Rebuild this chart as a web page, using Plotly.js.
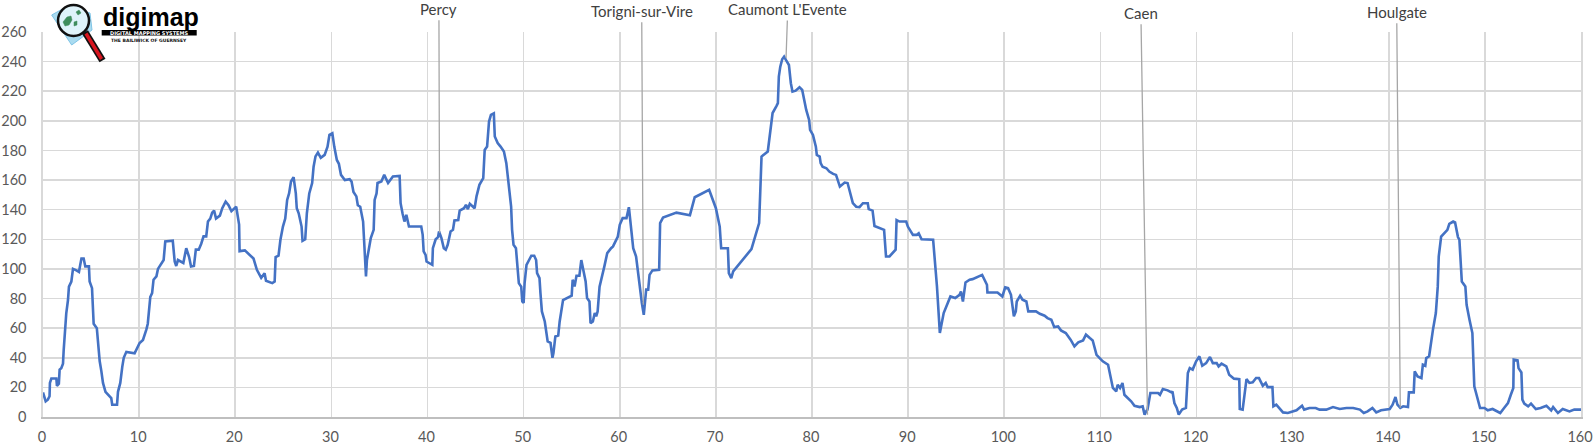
<!DOCTYPE html>
<html>
<head>
<meta charset="utf-8">
<script src="https://cdn.plot.ly/plotly-3.0.1.min.js"></script>
<style>
  html, body { margin: 0; padding: 0; background: #ffffff; }
  #chart { width: 1593px; height: 446px; }
</style>
</head>
<body>
<div id="chart"></div>
<script>
// ---- Data ----
const distanceKm = [
  0, 0.28, 0.5, 0.68, 0.72, 0.87, 1.39, 1.45, 1.65, 1.73, 1.9, 2.08, 2.15, 2.29, 2.42, 2.6, 2.7, 2.95, 3.12, 3.47,
  3.74, 3.88, 4.0, 4.23, 4.4, 4.78, 4.85, 5.1, 5.27, 5.6, 5.72, 5.9, 6.07, 6.24, 6.5, 6.76, 7.1, 7.2, 7.7, 7.8,
  8.04, 8.25, 8.4, 8.67, 9.53, 10.05, 10.4, 10.75, 10.9, 11.16, 11.35, 11.5, 11.8, 11.96, 12.3, 12.55, 12.72, 13.5, 13.7, 13.86,
  14.04, 14.6, 14.9, 15.2, 15.4, 15.7, 15.9, 16.2, 16.46, 16.7, 16.98, 17.16, 17.4, 17.6, 17.8, 18.0, 18.4, 18.65, 19.0, 19.3,
  19.6, 20.1, 20.4, 20.45, 21.0, 21.3, 21.56, 21.9, 22.25, 22.7, 23.05, 23.2, 23.85, 24.1, 24.2, 24.5, 24.7, 24.96, 25.2, 25.4,
  25.6, 25.8, 26.07, 26.3, 26.4, 26.6, 26.9, 27.0, 27.28, 27.45, 27.7, 28.0, 28.15, 28.35, 28.6, 28.9, 29.3, 29.6, 29.8, 30.1,
  30.3, 30.57, 30.78, 31.0, 31.4, 31.9, 32.1, 32.3, 32.6, 32.75, 33.0, 33.3, 33.4, 33.6, 33.7, 33.9, 34.1, 34.4, 34.5, 34.7,
  34.8, 35.2, 35.5, 35.9, 36.4, 37.1, 37.2, 37.4, 37.6, 37.8, 37.97, 38.07, 39.35, 39.5, 39.6, 39.8, 39.9, 40.5, 40.56, 40.85,
  41.1, 41.2, 41.45, 41.7, 41.9, 42.1, 42.4, 42.65, 42.8, 43.2, 43.35, 43.8, 44.0, 44.2, 44.4, 44.9, 45.1, 45.4, 45.8, 45.95,
  46.2, 46.4, 46.6, 46.9, 47.0, 47.3, 47.6, 47.95, 48.2, 48.5, 48.7, 48.8, 48.95, 49.2, 49.4, 49.5, 49.75, 49.86, 50.0, 50.1,
  50.3, 50.8, 51.1, 51.3, 51.4, 51.65, 51.75, 51.9, 52.2, 52.4, 52.5, 52.8, 52.9, 53.0, 53.1, 53.3, 53.6, 53.75, 54.1, 55.0,
  55.1, 55.3, 55.5, 55.8, 56.0, 56.2, 56.45, 56.6, 56.85, 56.96, 57.2, 57.4, 57.55, 57.7, 57.9, 58.4, 58.7, 59.1, 59.3, 59.8,
  60.0, 60.3, 60.7, 60.95, 61.1, 61.3, 61.4, 61.7, 61.9, 62.1, 62.3, 62.5, 62.75, 62.96, 63.1, 63.4, 64.1, 64.2, 64.5, 65.9,
  67.3, 67.8, 69.3, 70.0, 70.4, 70.55, 71.25, 71.35, 71.6, 71.8, 73.7, 74.5, 74.75, 75.4, 75.9, 76.3, 76.45, 76.55, 76.7, 76.9,
  77.1, 77.3, 77.6, 77.8, 77.97, 78.3, 78.5, 78.7, 78.98, 79.2, 79.4, 79.7, 79.8, 80.1, 80.4, 80.5, 80.8, 80.9, 81.1, 81.5,
  81.8, 82.2, 82.5, 82.9, 83.4, 83.7, 84.0, 84.25, 84.6, 84.94, 85.3, 85.8, 85.9, 86.3, 86.5, 87.5, 87.7, 88.06, 88.7, 88.8,
  89.1, 89.8, 89.97, 90.2, 90.5, 90.9, 91.1, 91.4, 92.6, 93.0, 93.3, 93.7, 94.4, 94.9, 95.35, 95.5, 95.7, 95.97, 96.4, 96.7,
  97.7, 98.2, 98.25, 99.3, 99.8, 100.1, 100.4, 100.7, 101.0, 101.2, 101.3, 101.65, 101.9, 102.3, 102.5, 103.3, 103.7, 104.2, 104.5, 104.9,
  105.2, 105.6, 105.9, 106.4, 106.9, 107.3, 107.7, 108.2, 108.5, 108.9, 109.2, 109.6, 109.9, 110.25, 110.8, 111.3, 111.65, 111.8, 112.05, 112.3,
  112.5, 112.85, 113.2, 113.55, 114.1, 114.4, 114.6, 114.75, 114.9, 115.2, 116.0, 116.2, 116.5, 117.0, 117.4, 117.5, 117.7, 117.95, 118.15, 118.5,
  118.9, 119.1, 119.3, 119.6, 119.96, 120.3, 120.6, 121.0, 121.4, 121.7, 122.1, 122.3, 122.6, 123.1, 123.4, 123.9, 124.45, 124.5, 124.8, 125.2,
  125.5, 125.85, 126.2, 126.5, 126.9, 127.2, 127.4, 127.9, 128.0, 128.3, 128.6, 129.0, 129.5, 130.0, 130.4, 130.98, 131.2, 131.75, 132.4, 132.8,
  133.5, 134.2, 134.9, 135.6, 136.3, 137.0, 137.4, 137.8, 138.3, 138.7, 139.2, 140.1, 140.4, 140.7, 140.9, 141.2, 141.5, 142.0, 142.1, 142.6,
  142.7, 143.0, 143.4, 143.55, 143.8, 143.9, 144.2, 144.6, 144.9, 145.1, 145.2, 145.45, 145.8, 146.1, 146.3, 146.7, 146.9, 147.2, 147.35, 147.6,
  147.97, 148.1, 148.4, 148.7, 148.9, 149.25, 149.5, 149.96, 150.3, 150.8, 151.3, 151.6, 152.0, 152.4, 152.7, 152.96, 153.0, 153.4, 153.5, 153.8,
  153.9, 154.1, 154.5, 154.8, 155.3, 155.8, 156.4, 156.9, 157.1, 157.6, 158.1, 158.8, 159.3, 160.0
];
const elevationM = [
  16.6, 10.6, 11.7, 14, 23, 26, 26, 21, 22.5, 32, 33, 36, 45, 63, 70, 79, 88, 91.5, 100, 99,
  98, 103, 107, 107, 101.7, 101.7, 91.5, 87, 63, 60, 50, 37.6, 31, 23, 17, 15, 12.8, 8.3, 8.3, 17,
  23, 34, 40, 44, 43, 50, 52, 59, 63, 81, 83.7, 92.7, 95, 100, 103, 106, 118.5, 119, 105, 102,
  106, 104, 114, 108, 101.7, 102, 113, 113, 117, 122, 122, 132, 134, 138, 139.4, 134, 136, 141, 145.5, 143,
  139, 142, 130, 112, 112.5, 110.6, 109.5, 107, 99.4, 94, 97, 92, 90.4, 91.5, 108, 108.9, 119.7, 128.6, 134, 146.6,
  151, 159, 162, 151, 141, 137.6, 128.6, 119, 120, 137.6, 151, 158, 169, 176, 178.6, 175, 177, 182.6, 190.5, 191.6,
  182.6, 173.6, 171, 163.5, 160, 160.6, 159, 152, 149, 143, 142, 132, 119.7, 95, 106, 115, 120.8, 126.4, 146.6, 151,
  158, 159, 163.5, 158, 162.4, 162.8, 144.4, 137.6, 132, 136.5, 131, 128.6, 128.6, 123, 111.8, 109.5, 105, 102.8, 114, 120,
  121.5, 125.3, 120.8, 114, 113, 116.3, 125.3, 126.4, 132.7, 133, 139.4, 141, 143.3, 140.4, 144, 141, 149, 156.8, 161.3, 180.4,
  182.6, 199.5, 204, 205, 189.4, 185, 182.6, 179.3, 171.4, 155.6, 142, 126.4, 116.3, 114, 97.2, 90.4, 88, 78, 77, 90.4,
  102.8, 108.9, 108.9, 106, 97.2, 93.8, 83.7, 71.3, 64.5, 55.6, 51, 50, 45.4, 40, 43, 54.4, 55, 64.5, 79, 82,
  92.7, 88.2, 95.4, 95.4, 106, 99.4, 91.5, 80.3, 78, 63.4, 64.5, 70.2, 68, 71.3, 88, 101.7, 110.7, 114, 115.2, 121.9,
  129.8, 134.3, 134.3, 141.7, 133, 124, 114, 108.4, 97.2, 88.2, 77, 69, 86, 86, 96, 99, 99.4, 131, 134.7, 138,
  136.3, 148.4, 153.4, 141, 128.6, 114, 114, 97.2, 93.8, 98.3, 113.4, 131, 175.9, 179.3, 205.3, 210, 212, 229.9, 236.6, 241.6,
  243.4, 241, 237.7, 225.4, 219.7, 220.4, 221.3, 222.7, 220.9, 214, 207.4, 200.6, 193.9, 190.5, 182.6, 177, 175.9, 171.4, 169, 168,
  165.8, 164.2, 163.5, 155.6, 158.3, 158, 151, 144.4, 142, 141.7, 144.4, 144.4, 140.4, 139.4, 129, 126.4, 108.4, 108.4, 113, 133,
  132, 132, 128.6, 126.4, 123, 123, 124, 120, 119.7, 88.2, 56.7, 70.2, 81.4, 80.3, 82.5, 84.8, 78, 90.9, 92.7, 93.1,
  96, 89.3, 84.1, 84.1, 81.4, 87.5, 87, 82.5, 68, 71.3, 78, 81.9, 79.2, 78, 71.3, 71.3, 69.7, 68.4, 66.8, 65.7,
  60.7, 61.2, 58.5, 56.7, 52.2, 47.7, 50.4, 51.7, 55.6, 53.3, 51.7, 42, 39.8, 37.6, 35.3, 19.6, 17.3, 21.8, 19.6, 23,
  15, 12.8, 10.6, 7.6, 6.7, 7.2, 1.6, 3.8, 5, 16.2, 16.2, 15, 18.9, 18, 16.6, 17.3, 9.4, 6.1, 1.6, 5,
  6.1, 29.7, 33, 32, 37.6, 41, 34.6, 36.4, 40.5, 36.4, 36.4, 34.2, 36, 34.2, 28.6, 25.9, 25.6, 5.4, 5, 25.6,
  23, 23.4, 26.3, 26.3, 21.1, 23, 20.2, 20.2, 7.2, 8.3, 6.1, 3.1, 2.7, 3.8, 4.5, 7.6, 5, 6.1, 6.1, 5,
  5, 6.7, 5.4, 6.1, 6.1, 5, 2.7, 3.8, 6.1, 3.1, 4.5, 5.4, 8.3, 13.5, 8.3, 6.1, 7.2, 6.7, 16.6, 16.6,
  30.8, 27.4, 26.3, 35.3, 34.6, 39.8, 41, 59, 70.2, 88.2, 108.4, 121.9, 124.2, 126.4, 130.5, 132, 131.4, 121.5, 119.7, 91.5,
  88.2, 75.8, 65.7, 56.7, 20.7, 12.8, 6.1, 6.1, 4.5, 5.4, 3.8, 2.7, 6.1, 9.4, 15, 19.6, 38.7, 38.2, 33, 30.1,
  11.7, 9, 7.2, 9, 5.4, 6.1, 7.6, 4.5, 6.7, 2.7, 5.4, 3.8, 5, 5
];

// Place labels with leader lines
const placeNames = ["Percy", "Torigni-sur-Vire", "Caumont L'Evente", "Caen", "Houlgate"];
const placeKm    = [41.26, 62.45, 77.3, 114.9, 141.2];
const placeElev  = [124.4, 75.8, 242.4, 1.5, 6.3];

const xTickVals = [0, 10, 20, 30, 40, 50, 60, 70, 80, 90, 100, 110, 120, 130, 140, 150, 160];
const yTickVals = [0, 20, 40, 60, 80, 100, 120, 140, 160, 180, 200, 220, 240, 260];

// ---- Layout geometry ----
const W = 1593, H = 446;
const M = { l: 43, r: 12, t: 32, b: 29 };
const PW = W - M.l - M.r, PH = H - M.t - M.b;
const px = v => (v - M.l) / PW;           // pixel x -> paper x
const py = v => (H - M.b - v) / PH;       // pixel y -> paper y

// label offsets (pixels) from the data point to the label centre
const labelOffsets = [[-0.7, -224], [-1.6, -294], [1.7, -49], [-6.6, -402], [-3.6, -396]];

const annotations = placeNames.map((name, i) => ({
  x: placeKm[i], y: placeElev[i], xref: 'x', yref: 'y',
  text: name, showarrow: true, arrowhead: 0, arrowwidth: 1.3, arrowcolor: '#a6a6a6',
  ax: labelOffsets[i][0], ay: labelOffsets[i][1], standoff: 0,
  font: { family: 'Lato, "Open Sans", sans-serif', size: 15, color: '#404040' },
  borderpad: 2
}));

// ---- Logo (digimap) ----
function pathFrom(points) {
  return 'M ' + points.map(p => px(p[0]) + ',' + py(p[1])).join(' L ') + ' Z';
}
const logoShapes = [
  { type: 'path', xref: 'paper', yref: 'paper', layer: 'above',
    path: pathFrom([[51.7, 15], [66, 7], [90, 13], [92, 30], [71.7, 45]]),
    fillcolor: '#a9dbf0', line: { color: '#7fc4e6', width: 1 } },
  { type: 'line', xref: 'paper', yref: 'paper', layer: 'above',
    x0: px(85), y0: py(32), x1: px(102.5), y1: py(60.5), line: { color: '#111111', width: 7 } },
  { type: 'line', xref: 'paper', yref: 'paper', layer: 'above',
    x0: px(86), y0: py(33.5), x1: px(101.5), y1: py(59), line: { color: '#d8151f', width: 3.5 } },
  { type: 'circle', xref: 'paper', yref: 'paper', layer: 'above',
    x0: px(58), y0: py(5), x1: px(89), y1: py(36),
    fillcolor: '#dff3fa', line: { color: '#111111', width: 2.5 } },
  { type: 'path', xref: 'paper', yref: 'paper', layer: 'above',
    path: pathFrom([[63, 22], [67, 17], [71, 16], [72, 20], [69, 25], [65, 26]]),
    fillcolor: '#3f8d5c', line: { color: '#3f8d5c', width: 0.5 } },
  { type: 'path', xref: 'paper', yref: 'paper', layer: 'above',
    path: pathFrom([[76, 12], [79, 10], [81, 13], [78, 15]]),
    fillcolor: '#3f8d5c', line: { color: '#3f8d5c', width: 0.5 } },
  { type: 'path', xref: 'paper', yref: 'paper', layer: 'above',
    path: pathFrom([[74, 22], [77, 21], [77, 25], [74, 26]]),
    fillcolor: '#3f8d5c', line: { color: '#3f8d5c', width: 0.5 } },
  { type: 'rect', xref: 'paper', yref: 'paper', layer: 'above',
    x0: px(101.7), y0: py(35.5), x1: px(196.7), y1: py(30),
    fillcolor: '#000000', line: { width: 0 } }
];
const logoTexts = [
  { xref: 'paper', yref: 'paper', x: px(100.5), y: py(16.5), xanchor: 'left', yanchor: 'middle',
    text: '<b>digimap</b>', showarrow: false,
    font: { family: '"Liberation Sans", Arial, sans-serif', size: 25, color: '#000000' } },
  { xref: 'paper', yref: 'paper', x: px(149.2), y: py(32.8), xanchor: 'center', yanchor: 'middle',
    text: '<b>DIGITAL MAPPING SYSTEMS</b>', showarrow: false,
    font: { family: '"DejaVu Sans", sans-serif', size: 5, color: '#ffffff' } },
  { xref: 'paper', yref: 'paper', x: px(149), y: py(40.3), xanchor: 'center', yanchor: 'middle',
    text: '<b>THE BAILIWICK OF GUERNSEY</b>', showarrow: false,
    font: { family: '"DejaVu Sans", sans-serif', size: 4.5, color: '#111111' } }
];

const tickFont = { family: 'Lato, "Open Sans", sans-serif', size: 14.5, color: '#595959' };

const trace = {
  type: 'scatter', mode: 'lines',
  x: distanceKm, y: elevationM,
  line: { color: '#4472C4', width: 2.6 },
  hoverinfo: 'skip'
};

const layout = {
  width: W, height: H,
  margin: M,
  paper_bgcolor: '#ffffff', plot_bgcolor: '#ffffff',
  showlegend: false,
  xaxis: {
    range: [0, 160], tickvals: xTickVals, ticktext: xTickVals.map(String),
    showgrid: true, gridcolor: '#d9d9d9', gridwidth: 1.6,
    showline: true, mirror: false, linecolor: '#bfbfbf', linewidth: 1.8,
    zeroline: false, ticks: '', ticklabelstandoff: 6, ticklabelshift: -1, ticklabeloverflow: 'allow',
    tickfont: tickFont, fixedrange: true
  },
  yaxis: {
    range: [0, 260], tickvals: yTickVals, ticktext: yTickVals.map(String),
    showgrid: true, gridcolor: '#d9d9d9', gridwidth: 1.6,
    showline: true, mirror: true, linecolor: '#d9d9d9', linewidth: 1.6,
    zeroline: false, ticks: '', ticklabelstandoff: 12, ticklabeloverflow: 'allow',
    tickfont: tickFont, fixedrange: true
  },
  shapes: logoShapes,
  annotations: annotations.concat(logoTexts)
};

Plotly.newPlot('chart', [trace], layout, { displayModeBar: false, staticPlot: true });
</script>
</body>
</html>
